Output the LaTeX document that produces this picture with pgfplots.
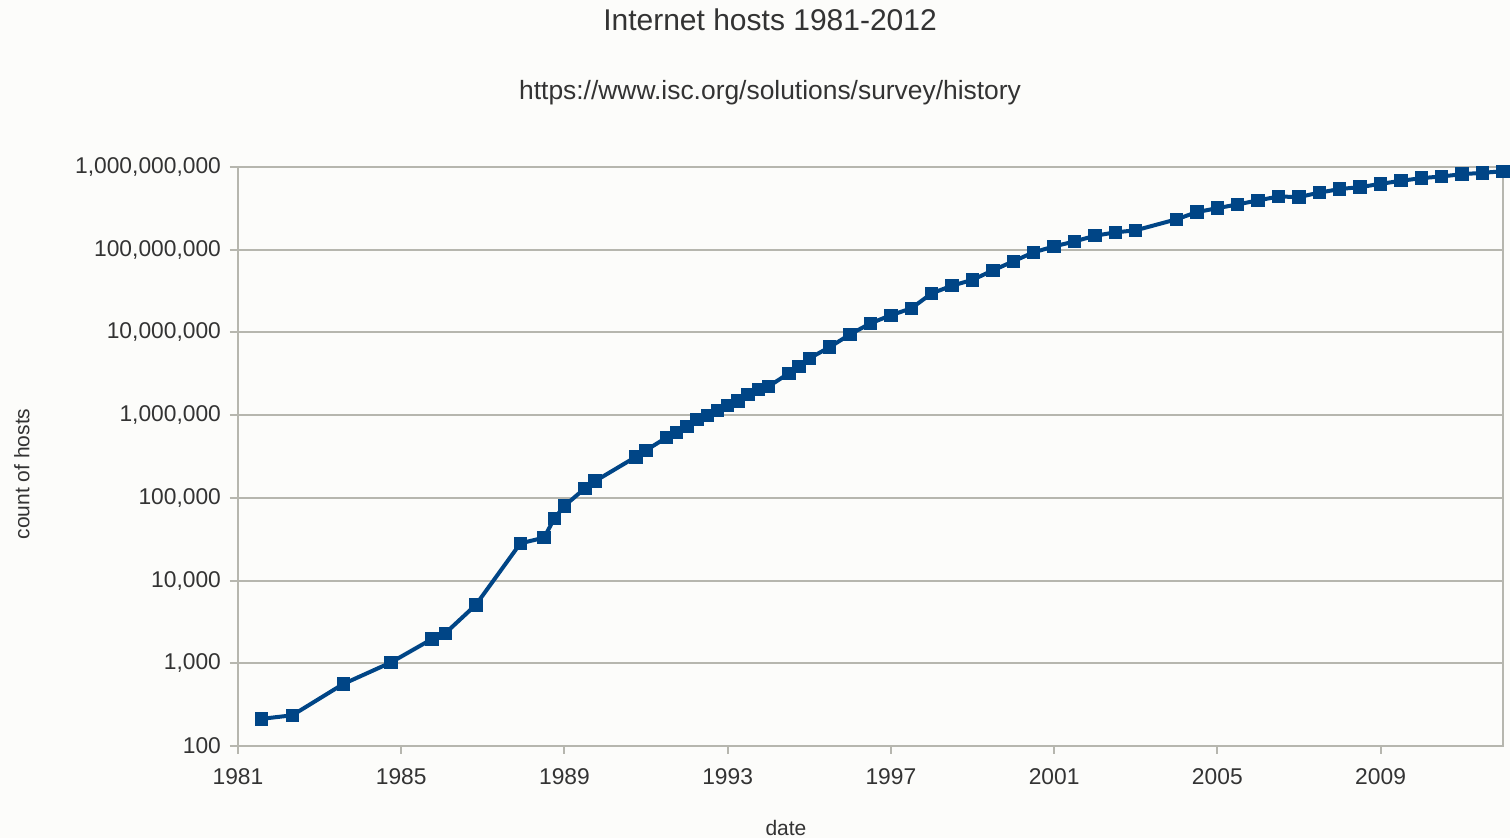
\documentclass[border=0pt]{standalone}
\usepackage{fontspec}
\setmainfont{Liberation Sans}
\usepackage{pgfplots}
\pgfplotsset{compat=1.18}
\definecolor{bgcol}{RGB}{252,252,250}
\definecolor{gridcol}{RGB}{182,182,174}
\definecolor{linecol}{RGB}{0,69,134}
\definecolor{txtcol}{RGB}{51,51,51}
\begin{document}
\begin{tikzpicture}
\fill[bgcol,use as bounding box] (-119pt,-46pt) rectangle (636pt,373pt);
\begin{axis}[
  scale only axis,
  width=632.5pt, height=289.5pt,
  xmin=1981, xmax=2012,
  ymode=log, ymin=100, ymax=1e9,
  clip=false,
  xtick={1981,1985,1989,1993,1997,2001,2005,2009},
  xticklabels={1981,1985,1989,1993,1997,2001,2005,2009},
  ytick={1e2,1e3,1e4,1e5,1e6,1e7,1e8,1e9},
  yticklabels={100,{1,000},{10,000},{100,000},{1,000,000},{10,000,000},{100,000,000},{1,000,000,000}},
  yminorticks=false,
  tick pos=left,
  tick align=outside,
  major tick length=4pt,
  tick style={gridcol, line width=1pt},
  axis line style={gridcol, line width=1pt},
  ymajorgrids,
  grid style={gridcol, line width=1pt},
  ticklabel style={font=\fontsize{11.4}{13}\selectfont, text=txtcol},
  xticklabel style={yshift=-4pt},
  yticklabel style={xshift=-1pt},
  /pgf/number format/assume math mode=true,
  xlabel={date},
  xlabel style={at={(axis description cs:0.4332,-0.1416)}, anchor=center, font=\fontsize{10.5}{12}\selectfont, text=txtcol},
  ylabel={count of hosts},
  ylabel style={at={(axis description cs:-0.1708,0.4698)}, anchor=center, font=\fontsize{10.5}{12}\selectfont, text=txtcol},
]
\addplot[color=linecol, line width=2pt, mark=square*, mark size=3.1pt, mark options={fill=linecol, draw=linecol, line width=0.5pt}] table {
x y
1981.58 213
1982.33 235
1983.58 562
1984.75 1024
1985.75 1961
1986.08 2308
1986.83 5089
1987.92 28174
1988.50 33000
1988.75 56000
1989.00 80000
1989.50 130000
1989.75 159000
1990.75 313000
1991.00 376000
1991.50 535000
1991.75 617000
1992.00 727000
1992.25 890000
1992.50 992000
1992.75 1136000
1993.00 1313000
1993.25 1486000
1993.50 1776000
1993.75 2056000
1994.00 2217000
1994.50 3212000
1994.75 3864000
1995.00 4852000
1995.50 6642000
1996.00 9472000
1996.50 12881000
1997.00 16146000
1997.50 19540000
1998.00 29670000
1998.50 36739000
1999.00 43230000
1999.50 56218000
2000.00 72398092
2000.50 93047785
2001.00 109574429
2001.50 125888197
2002.00 147344723
2002.50 162128493
2003.00 171638297
2004.00 233101481
2004.50 285139107
2005.00 317646084
2005.50 353284187
2006.00 394991609
2006.50 439286364
2007.00 433193199
2007.50 489774269
2008.00 541677360
2008.50 570937778
2009.00 625226456
2009.50 681064561
2010.00 732740444
2010.50 768913036
2011.00 818374269
2011.50 849869781
2012.00 888239420
};
\node[font=\fontsize{15}{18}\selectfont, text=txtcol, anchor=center] at (axis description cs:0.4206,1.2539) {Internet hosts 1981-2012};
\node[font=\fontsize{13.2}{16}\selectfont, text=txtcol, anchor=center] at (axis description cs:0.4206,1.1278) {https://www.isc.org/solutions/survey/history};
\end{axis}
\end{tikzpicture}
\end{document}
